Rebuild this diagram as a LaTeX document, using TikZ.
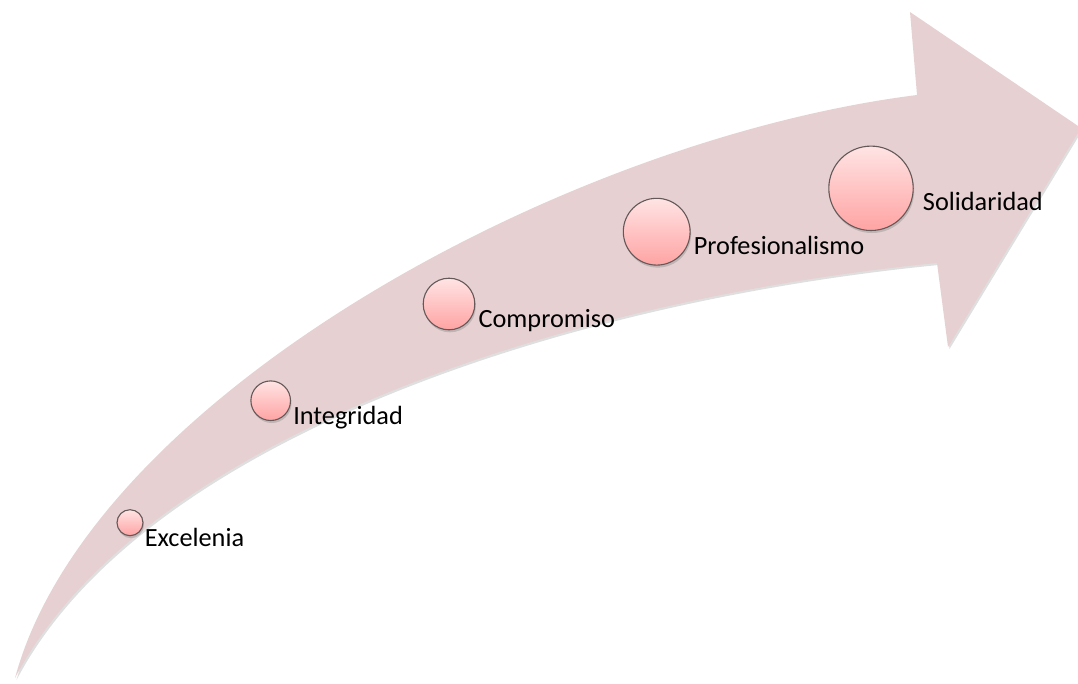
\documentclass[tikz,border=0pt]{standalone}
\usepackage{fontspec}
\setmainfont{Carlito}
\usetikzlibrary{positioning, shadows}
\definecolor{arrowpink}{RGB}{230,208,209} % fill of the big arrow
\definecolor{balltop}{RGB}{255,228,228}
\definecolor{ballbottom}{RGB}{255,163,163}
\definecolor{ballrim}{RGB}{100,88,88}
\tikzset{
value/.style={circle, inner sep=0pt, draw=ballrim, line width=1.1pt,
  top color=balltop, bottom color=ballbottom,
  drop shadow={shadow xshift=1pt, shadow yshift=-2.5pt, opacity=0.35}}, % the pink balls
valuetext/.style={anchor=base west, inner sep=0pt, font=\fontsize{26.3}{30}\selectfont}, % the labels
}

\begin{document}
\begin{tikzpicture}[x=1pt, y=-1pt]
\useasboundingbox (0,0) rectangle (1078,683);
% curved arrow
\fill[arrowpink, drop shadow={shadow xshift=1.5pt, shadow yshift=-2pt, opacity=0.25}]
    (15,678) .. controls (90,400) and (560,140) .. (917,95)
    -- (910,12) -- (1081,128) -- (948,347) -- (937,263)
    .. controls (560,300) and (140,440) .. (15,678) -- cycle;
% values
\node[value, minimum size=26pt] (exc) at (130,522.7) {};
\node[value, minimum size=39.6pt] (integ) at (270.7,400.7) {};
\node[value, minimum size=51.6pt] (comp) at (449,304) {};
\node[value, minimum size=66.8pt] (prof) at (656.7,231.7) {};
\node[value, minimum size=84.4pt] (soli) at (871,188.3) {};
\node[valuetext] (excl) at ([shift={(1,23.3)}]exc.east) {Excelenia};
\node[valuetext] (integl) at ([shift={(2,23.3)}]integ.east) {Integridad};
\node[valuetext] (compl) at ([shift={(3,23.5)}]comp.east) {Compromiso};
\node[valuetext] (profl) at ([shift={(3,22.3)}]prof.east) {Profesionalismo};
\node[valuetext] (solil) at ([shift={(9,22.4)}]soli.east) {Solidaridad};
\end{tikzpicture}
\end{document}
